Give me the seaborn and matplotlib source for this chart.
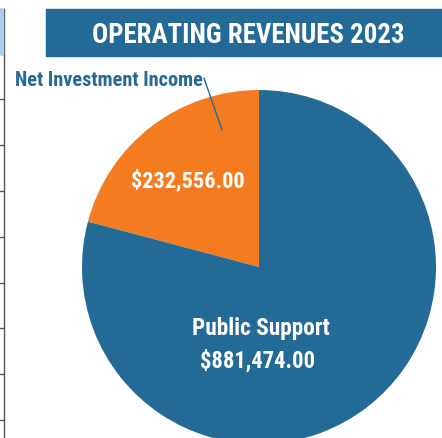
import matplotlib
matplotlib.use('Agg')
import matplotlib.pyplot as plt
import matplotlib.font_manager as fm
import seaborn as sns
from matplotlib.lines import Line2D
from matplotlib.patches import Rectangle

sns.set_theme(style='white')

# pick the narrowest bold family that is installed
installed = {f.name for f in fm.fontManager.ttflist}
family = 'DejaVu Sans'
for cand in ['Liberation Sans Narrow', 'Roboto Condensed', 'DejaVu Sans Condensed',
             'Open Sans Condensed', 'Noto Sans Display', 'Roboto', 'Lato']:
    if cand in installed:
        family = cand
        break
plt.rcParams['font.family'] = [family, 'DejaVu Sans']
plt.rcParams['font.stretch'] = 'condensed'

# data
categories = ['Net Investment Income', 'Public Support']
values = [232556.00, 881474.00]
value_labels = ['$232,556.00', '$881,474.00']
title = 'OPERATING REVENUES 2023'

BLUE = '#236a96'
ORANGE = '#f47b20'

fig = plt.figure(figsize=(4.42, 4.39), dpi=100)
ax = fig.add_axes([0, 0, 1, 1])
renderer = fig.canvas.get_renderer()

H = 439


def fit_text(x, y, s, width, **kw):
    # shrink/grow font so the text spans the given pixel width
    t = ax.text(x, H - y, s, fontsize=20, fontweight='bold', **kw)
    w = t.get_window_extent(renderer).width
    t.set_fontsize(20 * width / w)
    return t


# pie drawn in pixel coords (y up)
cx, cy, r = 259, H - 268, 177
ax.pie(values, colors=[ORANGE, BLUE], startangle=90, counterclock=True,
       center=(cx, cy), radius=r, frame=True, wedgeprops=dict(linewidth=0))
ax.set_xlim(0, 442)
ax.set_ylim(0, H)
ax.set_aspect('equal', adjustable='box')
ax.axis('off')

# slice labels
fit_text(188, 181, value_labels[0], 114, color='white', ha='center', va='center')
fit_text(261, 328, categories[1], 138, color='white', ha='center', va='center')
fit_text(258, 361, value_labels[1], 115, color='white', ha='center', va='center')

# outside label with leader line
fit_text(15, 80, categories[0], 187, color=BLUE, ha='left', va='center')
ax.add_line(Line2D([204, 222], [H - 79, H - 131], color=BLUE, linewidth=1))

# title banner
ax.add_patch(Rectangle((46, H - 57), 400, 47, color=BLUE, zorder=3))
fit_text(248, 35, title, 313, color='white', ha='center', va='center', zorder=4)

# cut-off table edge at left
ax.add_patch(Rectangle((0, H - 55), 3, 45, color='#a9cdea', zorder=3))
ax.add_line(Line2D([3.5, 3.5], [0, H - 10], color='#555555', linewidth=1))
for yy in [10, 55, 100, 146, 192, 238, 284, 329, 375, 421]:
    ax.add_line(Line2D([0, 3.5], [H - yy, H - yy], color='#555555', linewidth=1))

fig.savefig('out.png', dpi=100)
